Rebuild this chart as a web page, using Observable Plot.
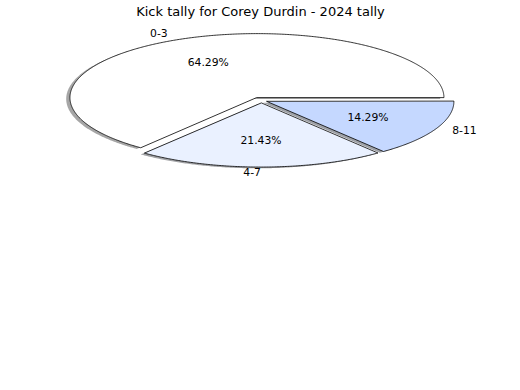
<!DOCTYPE html>
<html><head><meta charset="utf-8">
<script src="https://cdn.jsdelivr.net/npm/d3@7"></script>
<script src="https://cdn.jsdelivr.net/npm/@observablehq/plot@0.6"></script>
<style>body{margin:0;background:#fff}</style>
</head><body><div id="chart"></div>
<script>
const title = "Kick tally for Corey Durdin - 2024 tally";
const labels = ["0-3", "4-7", "8-11"];
const counts = [9, 3, 2];

// styling constants
const colors = ["#ffffff", "#eaf1ff", "#c5d8ff"];
const explode = [0.05, 0.04, 0.035];

const total = d3.sum(counts);
let cum = 0;
const slices = labels.map((label, i) => {
  const a0 = cum / total * 2 * Math.PI;
  cum += counts[i];
  const a1 = cum / total * 2 * Math.PI;
  const m = (a0 + a1) / 2;
  return {label, value: counts[i], pct: counts[i] / total * 100, a0, a1, m,
          cx: explode[i] * Math.cos(m), cy: explode[i] * Math.sin(m), color: colors[i]};
});

function wedge(s, dx = 0, dy = 0) {
  const n = Math.max(2, Math.ceil((s.a1 - s.a0) / (Math.PI / 360)));
  const pts = [{label: s.label, x: s.cx + dx, y: s.cy + dy}];
  for (let k = 0; k <= n; k++) {
    const a = s.a0 + (s.a1 - s.a0) * k / n;
    pts.push({label: s.label, x: s.cx + dx + Math.cos(a), y: s.cy + dy + Math.sin(a)});
  }
  return pts;
}

function shadowColor(c) {
  const r = d3.rgb(c);
  return d3.rgb(r.r * 0.3, r.g * 0.3, r.b * 0.3).formatHex();
}

const CX = 260.5, CY = 100, RX = 187, RY = 64;

const marks = [];
for (const s of slices) {
  marks.push(Plot.line(wedge(s, -0.02, -0.02), {
    x: "x", y: "y", curve: "linear-closed",
    fill: shadowColor(s.color), fillOpacity: 0.5, stroke: "none"
  }));
}
marks.push(Plot.line(slices.flatMap(s => wedge(s)), {
  x: "x", y: "y", z: "label", fill: "label", stroke: "black", strokeWidth: 0.8,
  curve: "linear-closed"
}));
marks.push(Plot.text(slices, {
  x: s => s.cx + 0.6 * Math.cos(s.m), y: s => s.cy + 0.6 * Math.sin(s.m),
  text: s => s.pct.toFixed(2) + "%", fontSize: 10.8, fill: "black", dy: -0.5
}));
marks.push(Plot.text(slices.filter(s => Math.cos(s.m) < 0), {
  x: s => s.cx + 1.1 * Math.cos(s.m), y: s => s.cy + 1.1 * Math.sin(s.m),
  text: "label", textAnchor: "end", fontSize: 10.8, fill: "black", dy: -1
}));
marks.push(Plot.text(slices.filter(s => Math.cos(s.m) >= 0), {
  x: s => s.cx + 1.1 * Math.cos(s.m), y: s => s.cy + 1.1 * Math.sin(s.m),
  text: "label", textAnchor: "start", fontSize: 10.8, fill: "black", dy: -1
}));
marks.push(Plot.text([title], {frameAnchor: "top", dy: 6, fontSize: 13, fill: "black"}));

const chart = Plot.plot({
  width: 520, height: 390,
  margin: 0,
  style: {fontFamily: "DejaVu Sans", background: "white", overflow: "visible"},
  x: {domain: [-1, 1], range: [CX - RX, CX + RX], axis: null},
  y: {domain: [-1, 1], range: [CY + RY, CY - RY], axis: null},
  color: {domain: labels, range: colors},
  marks
});
document.getElementById("chart").appendChild(chart);
</script>
</body></html>
